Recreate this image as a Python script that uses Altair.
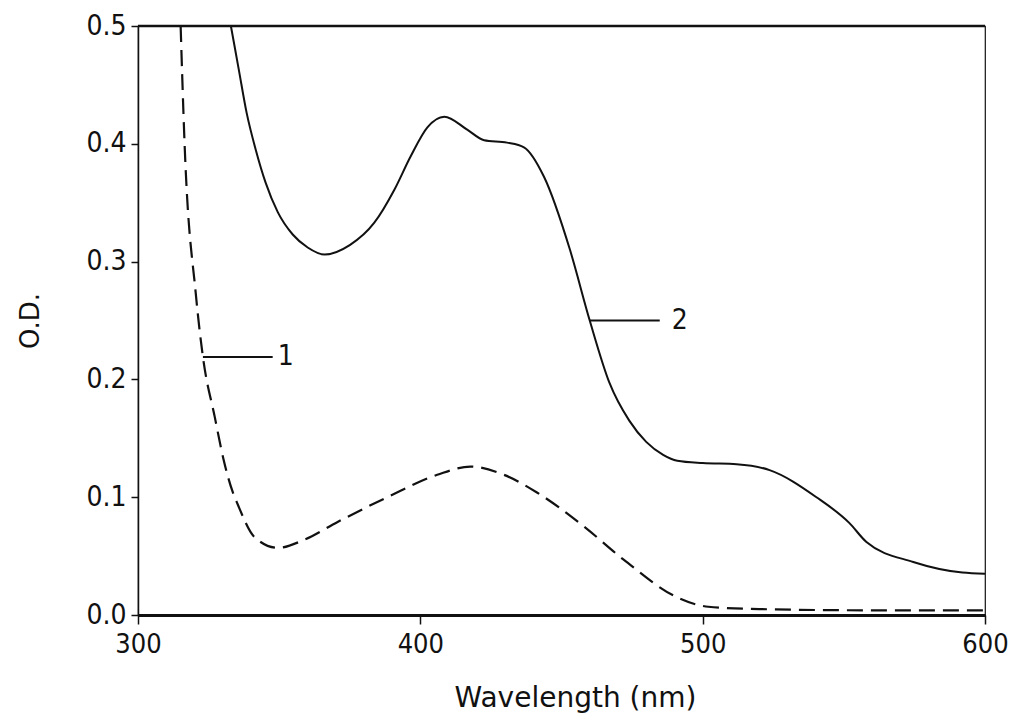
import altair as alt
import pandas as pd

# Curve 1 (dashed)
wl_1 = [315.1, 316.5, 320.5, 323, 327.2, 330.3, 333.6, 335.3, 341.3, 349.5, 359, 370.7,
        388.3, 406, 417.7, 429.6, 441.3, 458, 472, 491, 502, 520, 560, 600]
od_1 = [0.500, 0.400, 0.272, 0.219, 0.168, 0.132, 0.104, 0.094, 0.066, 0.057, 0.064, 0.079,
        0.100, 0.119, 0.126, 0.119, 0.104, 0.075, 0.047, 0.015, 0.007, 0.005, 0.004, 0.004]

# Curve 2 (solid)
wl_2 = [332.9, 335.7, 338.5, 341.7, 345.2, 349.5, 354.8, 360.1, 366.1, 375, 383.7, 390.8,
        396.5, 402.5, 408.5, 416.6, 422.6, 430.7, 436.7, 443.8, 453, 460, 467, 474, 480,
        486, 491, 500, 512, 523.7, 540.3, 552, 558, 574.6, 592, 600]
od_2 = [0.500, 0.463, 0.426, 0.395, 0.367, 0.342, 0.323, 0.312, 0.306, 0.314, 0.333, 0.361,
        0.389, 0.414, 0.423, 0.412, 0.403, 0.401, 0.397, 0.372, 0.310, 0.250, 0.197, 0.165,
        0.147, 0.136, 0.131, 0.129, 0.128, 0.123, 0.100, 0.078, 0.062, 0.045, 0.036, 0.035]

# Curve labels with leader lines
ann_x1 = [323, 460]
ann_x2 = [347.7, 484.8]
ann_y = [0.219, 0.250]
ann_tx = [352.3, 491.9]
ann_text = ["1", "2"]

x_ticks = [300, 400, 500, 600]
y_ticks = [0.0, 0.1, 0.2, 0.3, 0.4, 0.5]

df1 = pd.DataFrame({"wl": wl_1, "od": od_1})
df2 = pd.DataFrame({"wl": wl_2, "od": od_2})
ann = pd.DataFrame({"x1": ann_x1, "x2": ann_x2, "y": ann_y, "tx": ann_tx, "t": ann_text})
top = pd.DataFrame({"y": [max(y_ticks)]})

FONT = "DejaVu Sans Condensed"
INK = "#111111"

xs = alt.Scale(domain=[300, 600], nice=False, zero=False)
ys = alt.Scale(domain=[0, 0.5], nice=False)

xax = alt.Axis(values=x_ticks, format="d", grid=False, tickSize=9, labelPadding=7,
               labelFlush=False,
               labelFont=FONT, labelFontSize=27, labelColor=INK, tickColor=INK,
               domainColor=INK, domainWidth=3, tickWidth=1.5,
               title="Wavelength (nm)", titleFont="DejaVu Sans", titleFontSize=28,
               titleFontWeight="normal", titleColor=INK, titlePadding=27, titleX=437)
yax = alt.Axis(values=y_ticks, format=".1f", grid=False, tickSize=7, labelPadding=5,
               labelFlush=False,
               labelFont=FONT, labelFontSize=28, labelColor=INK, tickColor=INK,
               domainColor=INK, domainWidth=1.5, tickWidth=1.5,
               title="O.D.", titleFont="DejaVu Sans", titleFontSize=26,
               titleFontWeight="normal", titleColor=INK, titlePadding=42)

base_x = alt.X("wl:Q", scale=xs, axis=xax)
base_y = alt.Y("od:Q", scale=ys, axis=yax)

c1 = alt.Chart(df1).mark_line(color=INK, strokeWidth=2.2, strokeDash=[16, 8],
                              interpolate="monotone").encode(x=base_x, y=base_y)
c2 = alt.Chart(df2).mark_line(color=INK, strokeWidth=2, interpolate="monotone").encode(
    x=alt.X("wl:Q", scale=xs), y=alt.Y("od:Q", scale=ys))

leaders = alt.Chart(ann).mark_rule(color=INK, strokeWidth=2).encode(
    x=alt.X("x1:Q", scale=xs), x2="x2:Q", y=alt.Y("y:Q", scale=ys))
labels = alt.Chart(ann).mark_text(font=FONT, fontSize=28, color=INK, align="center",
                                  baseline="middle").encode(
    x=alt.X("tx:Q", scale=xs), y=alt.Y("y:Q", scale=ys), text="t:N")
topline = alt.Chart(top).mark_rule(color=INK, strokeWidth=2.5).encode(
    y=alt.Y("y:Q", scale=ys))

chart = alt.layer(topline, c1, c2, leaders, labels).properties(
    width=847, height=589,
    autosize=alt.AutoSizeParams(type="none"),
    padding={"left": 130, "top": 18, "right": 24, "bottom": 104},
    background="white",
).configure_view(stroke=INK, strokeWidth=1.2)

chart.save("out.html", embed_options={"renderer": "svg", "actions": False})
